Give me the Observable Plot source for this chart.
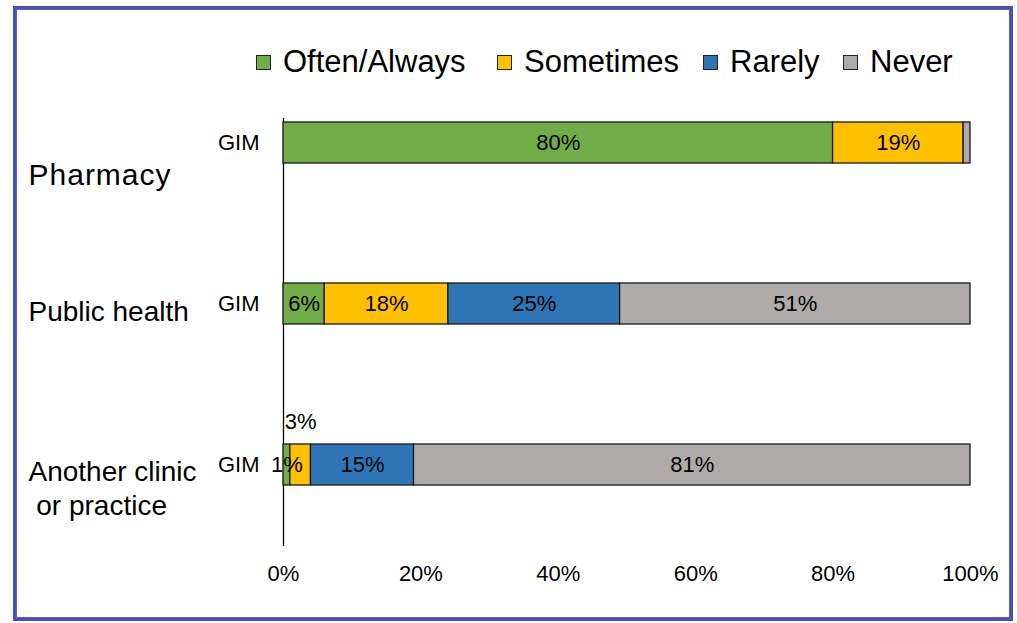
<!DOCTYPE html>
<html>
<head>
<meta charset="utf-8">
<script src="https://cdn.jsdelivr.net/npm/d3@7"></script>
<script src="https://cdn.jsdelivr.net/npm/@observablehq/plot@0.6"></script>
<style>
  html, body { margin: 0; padding: 0; background: #fff; }
  #wrap { position: relative; width: 1017px; height: 623px; overflow: hidden; font-family: Arial, "Liberation Sans", sans-serif; }
  #frame { position: absolute; left: 13px; top: 6px; width: 994px; height: 609px; border: 3px solid #3f55b8; box-shadow: inset 0 0 0 1px #7a4cc2; pointer-events: none; }
  #chart { position: absolute; left: 0; top: 0; }
  .leg { position: absolute; top: 44px; display: flex; align-items: center; font-size: 31px; color: #000; white-space: nowrap; }
  .sw { width: 13px; height: 13px; border: 1.3px solid #222; margin-right: 12px; }
</style>
</head>
<body>
<div id="wrap">
  <div id="chart"></div>
  <div id="legend"></div>
  <div id="frame"></div>
</div>
<script>
// ---- data ----
const groups = ["Pharmacy", "Public health", "Another clinic or practice"];
const groupLabels = ["Pharmacy", "Public health", "Another clinic\n\u00a0or practice"];
const responses = ["Often/Always", "Sometimes", "Rarely", "Never"];
const oftenAlways = [80, 6, 1];
const sometimes = [19, 18, 3];
const rarely = [0, 25, 15];
const never = [1, 51, 81];
const oftenLabels = ["80%", "6%", "1%"];
const sometimesLabels = ["19%", "18%", "3%"];
const rarelyLabels = ["", "25%", "15%"];
const neverLabels = ["", "51%", "81%"];
const xTicks = [0, 20, 40, 60, 80, 100];
const yTickText = "GIM";

// ---- styles ----
const colors = ["#70ad47", "#ffc000", "#2e75b6", "#aeaaaa"];

const seriesValues = [oftenAlways, sometimes, rarely, never];
const seriesLabels = [oftenLabels, sometimesLabels, rarelyLabels, neverLabels];

const rows = groups.flatMap((g, i) => {
  let acc = 0;
  return responses.map((r, j) => {
    const v = seriesValues[j][i];
    const row = {group: g, response: r, value: v, x1: acc, x2: acc + v, label: seriesLabels[j][i]};
    acc += v;
    return row;
  });
});

const isRaised = d => d.group === groups[2] && d.response === "Sometimes";
const labelRows = rows.filter(d => d.label !== "" && !isRaised(d));
const raisedRows = rows.filter(d => d.label !== "" && isRaised(d));

const catStyle = [
  {dy: 30, fontSize: 30},
  {dy: 6, fontSize: 28},
  {dy: 22, fontSize: 28}
];

const chart = Plot.plot({
  width: 1017,
  height: 623,
  marginLeft: 283,
  marginRight: 47,
  marginTop: 118,
  marginBottom: 77,
  style: {fontFamily: "Arial, 'Liberation Sans', sans-serif", fontSize: "22px", color: "#000", background: "transparent", overflow: "visible"},
  x: {domain: [0, 100], ticks: xTicks, tickFormat: d => `${d}%`, tickSize: 0, tickPadding: 19, label: null},
  y: {domain: groups, range: [62.5, 545.5], paddingInner: 0.745, paddingOuter: 0.3725, tickSize: 0, tickPadding: 24, tickFormat: () => yTickText, label: null},
  color: {domain: responses, range: colors},
  marks: [
    Plot.ruleX([0], {stroke: "#000", strokeWidth: 1.3}),
    Plot.barX(rows.filter(d => d.value > 0), {x1: "x1", x2: "x2", y: "group", fill: "response", stroke: "#1a1a1a", strokeWidth: 1.3}),
    Plot.text(labelRows, {x: d => (d.x1 + d.x2) / 2, y: "group", text: "label", fontSize: 22, fill: "#000"}),
    Plot.text(raisedRows, {x: d => (d.x1 + d.x2) / 2, y: "group", text: "label", fontSize: 22, fill: "#000", dy: -43}),
    ...groups.map((g, i) => Plot.text([g], {
      y: d => d, text: () => groupLabels[i], frameAnchor: "left", dx: -255, textAnchor: "start",
      fontSize: catStyle[i].fontSize, dy: catStyle[i].dy, lineHeight: 1.2, fill: "#000"
    }))
  ]
});

d3.select(chart).selectAll("text").filter(function() { return this.textContent === "Pharmacy"; }).attr("letter-spacing", "1px");
document.getElementById("chart").appendChild(chart);

// ---- legend ----
const legendLeft = [256, 497, 703, 843];
const legend = document.getElementById("legend");
responses.forEach((r, i) => {
  const item = document.createElement("div");
  item.className = "leg";
  item.style.left = legendLeft[i] + "px";
  const sw = document.createElement("div");
  sw.className = "sw";
  sw.style.background = colors[i];
  const t = document.createElement("span");
  t.textContent = r;
  item.appendChild(sw);
  item.appendChild(t);
  legend.appendChild(item);
});
</script>
</body>
</html>
